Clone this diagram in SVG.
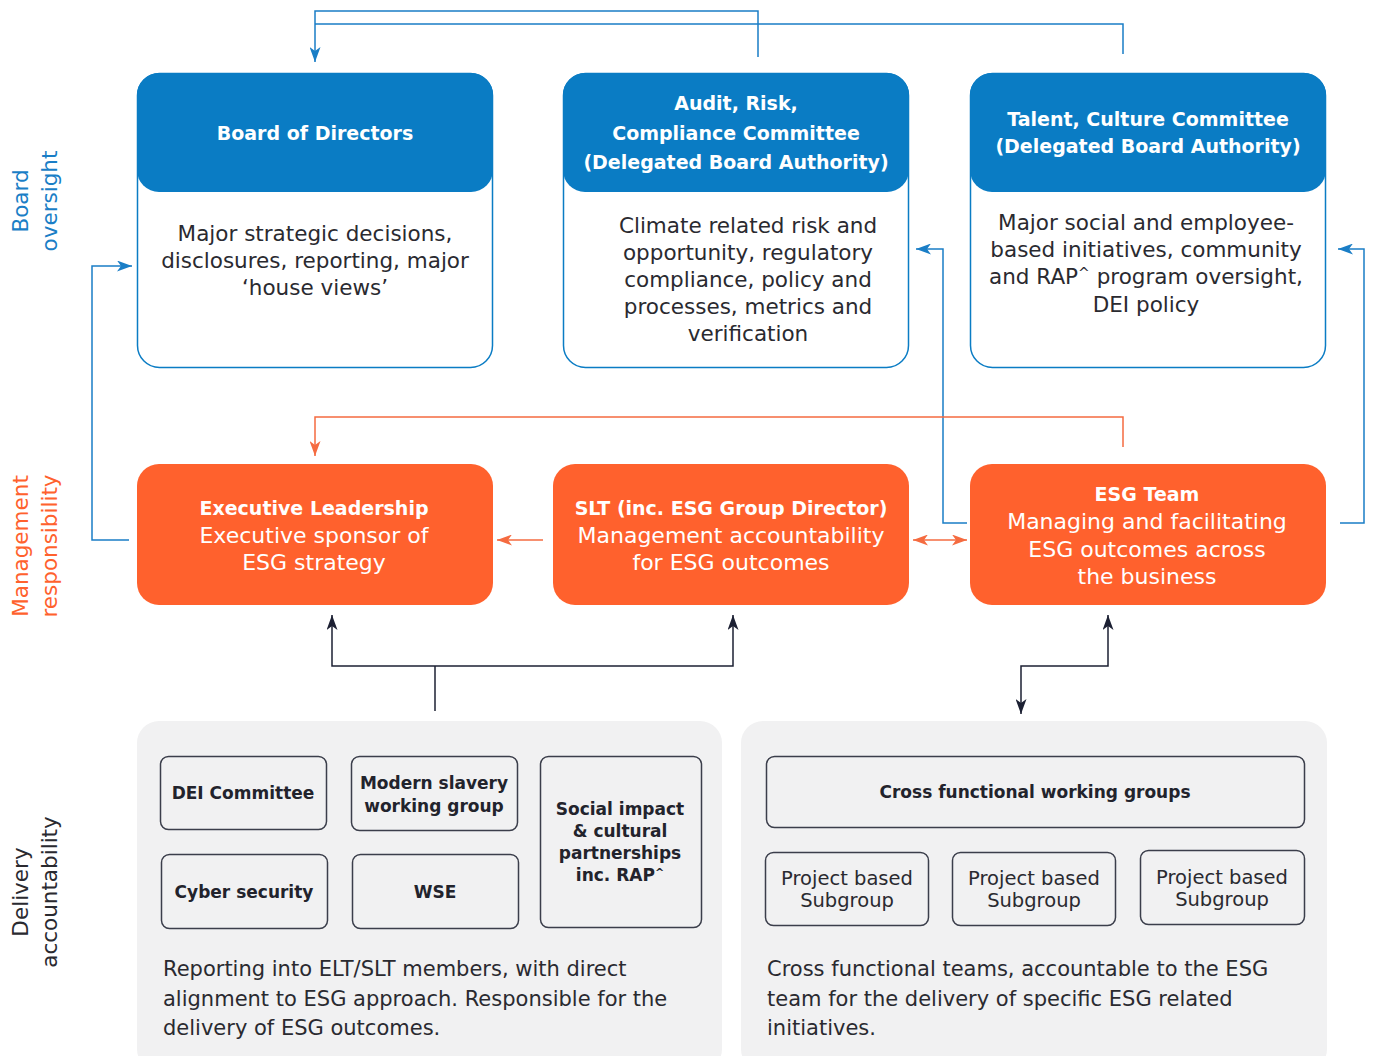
<svg xmlns="http://www.w3.org/2000/svg" width="1373" height="1056" viewBox="0 0 1373 1056">
  <style>
    text { font-family: "DejaVu Sans", "Liberation Sans", sans-serif; }
    .hdr { font-size: 19px; font-weight: bold; fill: #ffffff; text-anchor: middle; }
    .body { font-size: 21.5px; fill: #2a2a30; text-anchor: middle; }
    .obody { font-size: 22px; fill: #ffffff; text-anchor: middle; }
    .dbold { font-size: 17px; font-weight: bold; fill: #22232c; text-anchor: middle; }
    .dreg { font-size: 19.5px; fill: #2a2a30; text-anchor: middle; }
    .note { font-size: 21px; fill: #2a2a30; }
    .side { font-size: 21.5px; text-anchor: middle; }
    .sup { font-size: 65%; }
    .card { fill: #ffffff; stroke: #0a7cc4; stroke-width: 1.5; }
    .cap { fill: #0a7cc4; }
    .mgmt { fill: #ff612d; }
    .panel { fill: #f1f1f2; }
    .item { fill: none; stroke: #3b3e4b; stroke-width: 1.5; }
    .blue { fill: none; stroke: #1a7ec6; stroke-width: 1.5; }
    .orange { fill: none; stroke: #f56b40; stroke-width: 1.5; }
    .dark { fill: none; stroke: #1c2033; stroke-width: 1.5; }
  </style>
  <defs>
    <marker id="ah-blue" viewBox="0 0 15 11" refX="15" refY="5.5" markerWidth="15" markerHeight="11" markerUnits="userSpaceOnUse" orient="auto-start-reverse">
      <path d="M0,0 L15,5.5 L0,11 L4,5.5 z" fill="#1a7ec6"/>
    </marker>
    <marker id="ah-orange" viewBox="0 0 15 11" refX="15" refY="5.5" markerWidth="15" markerHeight="11" markerUnits="userSpaceOnUse" orient="auto-start-reverse">
      <path d="M0,0 L15,5.5 L0,11 L4,5.5 z" fill="#f56b40"/>
    </marker>
    <marker id="ah-dark" viewBox="0 0 15 11" refX="15" refY="5.5" markerWidth="15" markerHeight="11" markerUnits="userSpaceOnUse" orient="auto-start-reverse">
      <path d="M0,0 L15,5.5 L0,11 L4,5.5 z" fill="#1c2033"/>
    </marker>
  </defs>

  <!-- Tier labels -->
  <g id="tier-labels">
    <text class="side" fill="#1a7ec6" transform="translate(28,201) rotate(-90)">Board</text>
    <text class="side" fill="#1a7ec6" transform="translate(57,201) rotate(-90)">oversight</text>
    <text class="side" fill="#ff612d" transform="translate(28,546) rotate(-90)">Management</text>
    <text class="side" fill="#ff612d" transform="translate(57,546) rotate(-90)">responsibility</text>
    <text class="side" fill="#2a2a30" transform="translate(28,892) rotate(-90)">Delivery</text>
    <text class="side" fill="#2a2a30" transform="translate(57,892) rotate(-90)">accountability</text>
  </g>

  <!-- Board oversight tier -->
  <g id="board-of-directors">
    <rect class="card" x="137.5" y="73.5" width="355" height="294" rx="22"/>
    <rect class="cap" x="137" y="73" width="356" height="119" rx="22"/>
    <text class="hdr" x="315" y="140">Board of Directors</text>
    <text class="body" x="315" y="241">Major strategic decisions,</text>
    <text class="body" x="315" y="268">disclosures, reporting, major</text>
    <text class="body" x="315" y="295">‘house views’</text>
  </g>

  <g id="audit-risk-compliance">
    <rect class="card" x="563.5" y="73.5" width="345" height="294" rx="22"/>
    <rect class="cap" x="563" y="73" width="346" height="119" rx="22"/>
    <text class="hdr" x="736" y="110">Audit, Risk,</text>
    <text class="hdr" x="736" y="140">Compliance Committee</text>
    <text class="hdr" x="736" y="169">(Delegated Board Authority)</text>
    <text class="body" x="748" y="233">Climate related risk and</text>
    <text class="body" x="748" y="260">opportunity, regulatory</text>
    <text class="body" x="748" y="287">compliance, policy and</text>
    <text class="body" x="748" y="314">processes, metrics and</text>
    <text class="body" x="748" y="341">verification</text>
  </g>

  <g id="talent-culture">
    <rect class="card" x="970.5" y="73.5" width="355" height="294" rx="22"/>
    <rect class="cap" x="970" y="73" width="356" height="119" rx="22"/>
    <text class="hdr" x="1148" y="126">Talent, Culture Committee</text>
    <text class="hdr" x="1148" y="153">(Delegated Board Authority)</text>
    <text class="body" x="1146" y="230">Major social and employee-</text>
    <text class="body" x="1146" y="257">based initiatives, community</text>
    <text class="body" x="1146" y="284">and RAP<tspan class="sup" dy="-6">^</tspan><tspan dy="6"> program oversight,</tspan></text>
    <text class="body" x="1146" y="312">DEI policy</text>
  </g>

  <!-- Management responsibility tier -->
  <g id="executive-leadership">
    <rect class="mgmt" x="137" y="464" width="356" height="141" rx="22"/>
    <text class="hdr" x="314" y="515">Executive Leadership</text>
    <text class="obody" x="314" y="543">Executive sponsor of</text>
    <text class="obody" x="314" y="570">ESG strategy</text>
  </g>

  <g id="slt">
    <rect class="mgmt" x="553" y="464" width="356" height="141" rx="22"/>
    <text class="hdr" x="731" y="515">SLT (inc. ESG Group Director)</text>
    <text class="obody" x="731" y="543">Management accountability</text>
    <text class="obody" x="731" y="570">for ESG outcomes</text>
  </g>

  <g id="esg-team">
    <rect class="mgmt" x="970" y="464" width="356" height="141" rx="22"/>
    <text class="hdr" x="1147" y="501">ESG Team</text>
    <text class="obody" x="1147" y="529">Managing and facilitating</text>
    <text class="obody" x="1147" y="557">ESG outcomes across</text>
    <text class="obody" x="1147" y="584">the business</text>
  </g>

  <!-- Delivery accountability tier -->
  <g id="delivery-groups">
    <rect class="panel" x="137" y="721" width="585" height="350" rx="22"/>
    <g id="dei-committee">
      <rect class="item" x="160.5" y="756.5" width="166" height="73" rx="8"/>
      <text class="dbold" x="243" y="799">DEI Committee</text>
    </g>
    <g id="modern-slavery">
      <rect class="item" x="351.5" y="756.5" width="166" height="74" rx="8"/>
      <text class="dbold" x="434" y="789">Modern slavery</text>
      <text class="dbold" x="434" y="812">working group</text>
    </g>
    <g id="social-impact">
      <rect class="item" x="540.5" y="756.5" width="161" height="171" rx="8"/>
      <text class="dbold" x="620" y="815">Social impact</text>
      <text class="dbold" x="620" y="837">&amp; cultural</text>
      <text class="dbold" x="620" y="859">partnerships</text>
      <text class="dbold" x="620" y="881">inc. RAP<tspan class="sup" dy="-5">^</tspan></text>
    </g>
    <g id="cyber-security">
      <rect class="item" x="161.5" y="854.5" width="166" height="74" rx="8"/>
      <text class="dbold" x="244" y="898">Cyber security</text>
    </g>
    <g id="wse">
      <rect class="item" x="352.5" y="854.5" width="166" height="74" rx="8"/>
      <text class="dbold" x="435" y="898">WSE</text>
    </g>
    <text class="note" x="163" y="976">Reporting into ELT/SLT members, with direct</text>
    <text class="note" x="163" y="1006">alignment to ESG approach. Responsible for the</text>
    <text class="note" x="163" y="1035">delivery of ESG outcomes.</text>
  </g>

  <g id="cross-functional">
    <rect class="panel" x="741" y="721" width="586" height="350" rx="22"/>
    <g id="working-groups">
      <rect class="item" x="766.5" y="756.5" width="538" height="71" rx="8"/>
      <text class="dbold" x="1035" y="798">Cross functional working groups</text>
    </g>
    <g id="subgroup-1">
      <rect class="item" x="765.5" y="852.5" width="163" height="73" rx="8"/>
      <text class="dreg" x="847" y="885">Project based</text>
      <text class="dreg" x="847" y="907">Subgroup</text>
    </g>
    <g id="subgroup-2">
      <rect class="item" x="952.5" y="852.5" width="163" height="73" rx="8"/>
      <text class="dreg" x="1034" y="885">Project based</text>
      <text class="dreg" x="1034" y="907">Subgroup</text>
    </g>
    <g id="subgroup-3">
      <rect class="item" x="1140.5" y="850.5" width="164" height="74" rx="8"/>
      <text class="dreg" x="1222" y="884">Project based</text>
      <text class="dreg" x="1222" y="906">Subgroup</text>
    </g>
    <text class="note" x="767" y="976">Cross functional teams, accountable to the ESG</text>
    <text class="note" x="767" y="1006">team for the delivery of specific ESG related</text>
    <text class="note" x="767" y="1035">initiatives.</text>
  </g>

  <!-- Connectors -->
  <g id="connectors">
    <!-- committees report up to the board -->
    <path class="blue" d="M758,57 V11 H315 V62" marker-end="url(#ah-blue)"/>
    <path class="blue" d="M1123,54 V24 H315"/>
    <!-- management up to board tier -->
    <path class="blue" d="M129,540 H92 V266 H132" marker-end="url(#ah-blue)"/>
    <path class="blue" d="M967,523 H943 V249 H916" marker-end="url(#ah-blue)"/>
    <path class="blue" d="M1340,523 H1364 V249 H1338" marker-end="url(#ah-blue)"/>
    <!-- within management tier -->
    <path class="orange" d="M1123,447 V417 H315 V456" marker-end="url(#ah-orange)"/>
    <path class="orange" d="M543,540 H497" marker-end="url(#ah-orange)"/>
    <path class="orange" d="M913,540 H967" marker-start="url(#ah-orange)" marker-end="url(#ah-orange)"/>
    <!-- delivery tier links -->
    <path class="dark" d="M435,711 V666"/>
    <path class="dark" d="M332,615 V666 H733 V615" marker-start="url(#ah-dark)" marker-end="url(#ah-dark)"/>
    <path class="dark" d="M1108,615 V666 H1021 V714" marker-start="url(#ah-dark)" marker-end="url(#ah-dark)"/>
  </g>
</svg>
